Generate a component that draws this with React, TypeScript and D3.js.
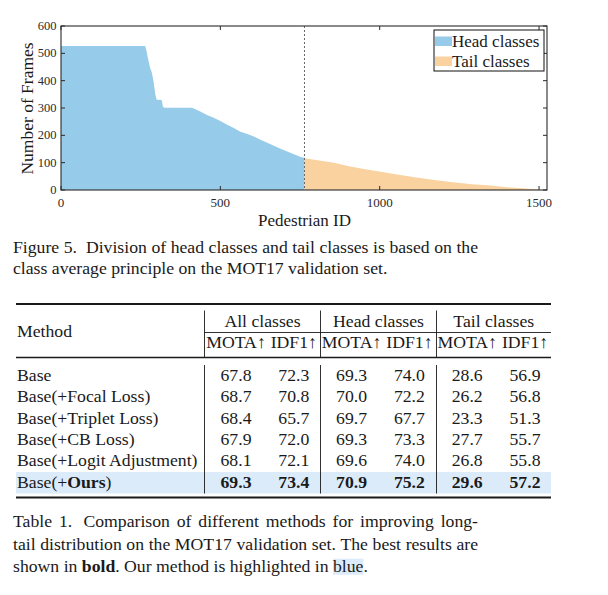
import React, { useEffect, useRef } from 'react';
import * as d3 from 'd3';

// head classes (sorted frame counts)
const headIds = [0, 264, 268, 275, 280, 285, 290, 296, 300, 316, 320, 324, 411, 420, 437, 458, 479, 500, 520, 542, 563, 585, 605, 626, 647, 668, 689, 710, 731, 752, 764];
const headVals = [527, 527, 510, 470, 445, 430, 400, 350, 330, 329, 305, 301, 301, 296, 287, 274, 264, 252, 240, 227, 213, 205, 196, 184, 173, 162, 151, 141, 131, 121, 118];
const tailIds = [764, 800, 857, 900, 950, 1003, 1060, 1110, 1171, 1230, 1290, 1339, 1400, 1450, 1486, 1500];
const tailVals = [116, 110, 100, 88, 77, 67, 56, 47, 37, 28, 21, 17, 10, 6, 3, 1];
const splitId = 764;

const xTicks = [0, 500, 1000, 1500];
const yTicks = [0, 100, 200, 300, 400, 500, 600];
const legendLabels = ['Head classes', 'Tail classes'];

// table
const methods = ['Base', 'Base(+Focal Loss)', 'Base(+Triplet Loss)', 'Base(+CB Loss)', 'Base(+Logit Adjustment)', 'Base(+*Ours*)'];
const allMota = [67.8, 68.7, 68.4, 67.9, 68.1, 69.3];
const allIdf1 = [72.3, 70.8, 65.7, 72.0, 72.1, 73.4];
const headMota = [69.3, 70.0, 69.7, 69.3, 69.6, 70.9];
const headIdf1 = [74.0, 72.2, 67.7, 73.3, 74.0, 75.2];
const tailMota = [28.6, 26.2, 23.3, 27.7, 26.8, 29.6];
const tailIdf1 = [56.9, 56.8, 51.3, 55.7, 55.8, 57.2];
const groupLabels = ['All classes', 'Head classes', 'Tail classes'];
const subLabels = ['MOTA↑', 'IDF1↑'];

const figCaption = [
  'Figure 5.  Division of head classes and tail classes is based on the',
  'class average principle on the MOT17 validation set.',
];
const tableCaption = [
  'Table 1.  Comparison of different methods for improving long-',
  'tail distribution on the MOT17 validation set. The best results are',
  'shown in *bold*. Our method is highlighted in ^blue^.',
];

const W = 608;
const H = 595;
const FONT = '"Liberation Serif", "Times New Roman", serif';
const FS = 17.7;
const INK = '#1a1a1a';

type Part = { t: string; b: boolean; hl: boolean };

// '*' toggles bold, '^' toggles highlight
function parse(s: string): Part[] {
  const parts: Part[] = [];
  let b = false, hl = false, cur = '';
  for (const ch of s) {
    if (ch === '*' || ch === '^') {
      if (cur) parts.push({ t: cur, b, hl });
      cur = '';
      if (ch === '*') b = !b; else hl = !hl;
    } else cur += ch;
  }
  if (cur) parts.push({ t: cur, b, hl });
  return parts;
}

function writeLine(g: any, str: string, x0: number, yb: number, width: number | null, fs = FS) {
  const spaceW = 0.25 * fs;
  const words: { s: string; extra: number }[] = [];
  let extra = 0;
  str.split(' ').forEach((tok) => {
    if (tok === '') { extra += spaceW; return; }
    words.push({ s: tok, extra });
    extra = 0;
  });
  const nodes = words.map((w) => {
    const t = g.append('text').attr('y', yb).attr('font-family', FONT).attr('font-size', fs).attr('fill', INK);
    parse(w.s).forEach((p) => {
      t.append('tspan').attr('font-weight', p.b ? 'bold' : 'normal').attr('data-hl', p.hl ? '1' : null).text(p.t);
    });
    return t;
  });
  const widths = nodes.map((t: any) => (t.node() as SVGTextElement).getComputedTextLength());
  const total = d3.sum(widths) + d3.sum(words, (w) => w.extra);
  const gap = width !== null && words.length > 1 ? (width - total) / (words.length - 1) : spaceW;
  let pos = x0;
  nodes.forEach((t: any, i: number) => {
    if (i > 0) pos += gap + words[i].extra;
    t.attr('x', pos);
    let off = 0;
    t.selectAll('tspan').each(function (this: SVGTSpanElement) {
      const w = this.getComputedTextLength();
      if (this.getAttribute('data-hl')) {
        g.insert('rect', () => t.node())
          .attr('x', pos + off).attr('y', yb - 13).attr('width', w).attr('height', 16)
          .attr('fill', '#dcebfa');
      }
      off += w;
    });
    pos += widths[i];
  });
}

const App: React.FC = () => {
  const svgRef = useRef<SVGSVGElement>(null);

  useEffect(() => {
    if (!svgRef.current) return;
    const svg = d3.select(svgRef.current);
    svg.selectAll('*').remove();
    svg.append('rect').attr('width', W).attr('height', H).attr('fill', '#fff');

    // ---- chart ----
    const x = d3.scaleLinear().domain([0, 1525]).range([61, 547]);
    const y = d3.scaleLinear().domain([0, 600]).range([190, 26]);
    const [x0, x1] = x.range();
    const [y0, y1] = y.range();
    const area = d3.area<[number, number]>()
      .x((d) => x(d[0]))
      .y0(y(0))
      .y1((d) => y(d[1]));

    const headData = headIds.map((id, i) => [id, headVals[i]] as [number, number]);
    const tailData = tailIds.map((id, i) => [id, tailVals[i]] as [number, number]);
    svg.append('path').datum(headData).attr('d', area).attr('fill', '#97cbea');
    svg.append('path').datum(tailData).attr('d', area).attr('fill', '#f9d2a0');

    svg.append('line')
      .attr('x1', x(splitId)).attr('x2', x(splitId)).attr('y1', y1).attr('y2', y0)
      .attr('stroke', '#666').attr('stroke-width', 1).attr('stroke-dasharray', '2,2');

    const axisCol = '#2a2a2a';
    svg.append('rect')
      .attr('x', x0).attr('y', y1).attr('width', x1 - x0).attr('height', y0 - y1)
      .attr('fill', 'none').attr('stroke', axisCol).attr('stroke-width', 1.1);

    const tl = 4;
    xTicks.forEach((v) => {
      svg.append('line').attr('x1', x(v)).attr('x2', x(v)).attr('y1', y0).attr('y2', y0 - tl).attr('stroke', axisCol);
      svg.append('line').attr('x1', x(v)).attr('x2', x(v)).attr('y1', y1).attr('y2', y1 + tl).attr('stroke', axisCol);
      svg.append('text').attr('x', x(v)).attr('y', 207).attr('text-anchor', 'middle')
        .attr('font-family', FONT).attr('font-size', 13).attr('fill', axisCol).text(v);
    });
    yTicks.forEach((v) => {
      svg.append('line').attr('x1', x0).attr('x2', x0 + tl).attr('y1', y(v)).attr('y2', y(v)).attr('stroke', axisCol);
      svg.append('line').attr('x1', x1).attr('x2', x1 - tl).attr('y1', y(v)).attr('y2', y(v)).attr('stroke', axisCol);
      svg.append('text').attr('x', 56.5).attr('y', y(v) + 4).attr('text-anchor', 'end')
        .attr('font-family', FONT).attr('font-size', 12.5).attr('fill', axisCol).text(v);
    });

    svg.append('text').attr('transform', 'translate(33,108.5) rotate(-90)').attr('text-anchor', 'middle')
      .attr('font-family', FONT).attr('font-size', 17.5).attr('fill', INK).text('Number of Frames');
    svg.append('text').attr('x', 304.5).attr('y', 225.5).attr('text-anchor', 'middle')
      .attr('font-family', FONT).attr('font-size', 17).attr('fill', INK).text('Pedestrian ID');

    // legend
    const lg = svg.append('g');
    lg.append('rect').attr('x', 434).attr('y', 30).attr('width', 110).attr('height', 41)
      .attr('fill', '#fff').attr('stroke', '#111').attr('stroke-width', 1);
    const legendCols = ['#97cbea', '#f9d2a0'];
    legendLabels.forEach((lab, i) => {
      lg.append('rect').attr('x', 435).attr('y', 36.5 + i * 20).attr('width', 17).attr('height', 9.5).attr('fill', legendCols[i]);
      lg.append('text').attr('x', 452).attr('y', 47.3 + i * 20)
        .attr('font-family', FONT).attr('font-size', 17).attr('fill', INK).text(lab);
    });

    // ---- figure caption ----
    figCaption.forEach((line, i) => {
      writeLine(svg, line, 13, 253 + i * 21, i === 0 ? 465 : null);
    });

    // ---- table ----
    const tLeft = 16, tRight = 551;
    const bounds = [204.5, 320.5, 436.5, tRight];
    const colX = d3.scalePoint<number>().domain([0, 1, 2, 3, 4, 5]).range([236, 525]);
    const rowY = d3.scalePoint<number>().domain(methods.map((_, i) => i)).range([381, 487.6]);
    const cols = [allMota, allIdf1, headMota, headIdf1, tailMota, tailIdf1];

    svg.append('rect').attr('x', tLeft).attr('y', 472).attr('width', tRight - tLeft).attr('height', 21.5).attr('fill', '#dcebfa');

    svg.append('line').attr('x1', tLeft).attr('x2', tRight).attr('y1', 304).attr('y2', 304).attr('stroke', INK).attr('stroke-width', 1.8);
    svg.append('line').attr('x1', bounds[0]).attr('x2', tRight).attr('y1', 332.5).attr('y2', 332.5).attr('stroke', INK).attr('stroke-width', 0.9);
    svg.append('line').attr('x1', tLeft).attr('x2', tRight).attr('y1', 357.5).attr('y2', 357.5).attr('stroke', INK).attr('stroke-width', 1.3);
    svg.append('line').attr('x1', tLeft).attr('x2', tRight).attr('y1', 497.5).attr('y2', 497.5).attr('stroke', INK).attr('stroke-width', 2);

    bounds.slice(0, 3).forEach((bx) => {
      svg.append('line').attr('x1', bx).attr('x2', bx).attr('y1', 310.5).attr('y2', 357).attr('stroke', INK).attr('stroke-width', 0.9);
      svg.append('line').attr('x1', bx).attr('x2', bx).attr('y1', 365).attr('y2', 493.5).attr('stroke', INK).attr('stroke-width', 0.9);
    });

    const txt = (tx: number, ty: number, s: string, anchor = 'middle', bold = false) =>
      svg.append('text').attr('x', tx).attr('y', ty).attr('text-anchor', anchor)
        .attr('font-family', FONT).attr('font-size', FS).attr('font-weight', bold ? 'bold' : 'normal')
        .attr('fill', INK).text(s);

    txt(17, 336.5, 'Method', 'start');
    groupLabels.forEach((lab, i) => txt((bounds[i] + bounds[i + 1]) / 2, 327, lab));
    cols.forEach((_, j) => txt(colX(j)!, 347.5, subLabels[j % 2]));

    methods.forEach((m, i) => {
      const t = svg.append('text').attr('x', 17).attr('y', rowY(i)!)
        .attr('font-family', FONT).attr('font-size', FS).attr('fill', INK);
      parse(m).forEach((p) => t.append('tspan').attr('font-weight', p.b ? 'bold' : 'normal').text(p.t));
      const last = i === methods.length - 1;
      cols.forEach((c, j) => txt(colX(j)!, rowY(i)!, c[i].toFixed(1), 'middle', last));
    });

    // ---- table caption ----
    tableCaption.forEach((line, i) => {
      writeLine(svg, line, 13, 527.3 + i * 22.2, i < 2 ? 465 : null);
    });
  }, []);

  return (
    <svg
      ref={svgRef}
      width={W}
      height={H}
      style={{ position: 'absolute', left: 0, top: 0, display: 'block' }}
    />
  );
};

export default App;
